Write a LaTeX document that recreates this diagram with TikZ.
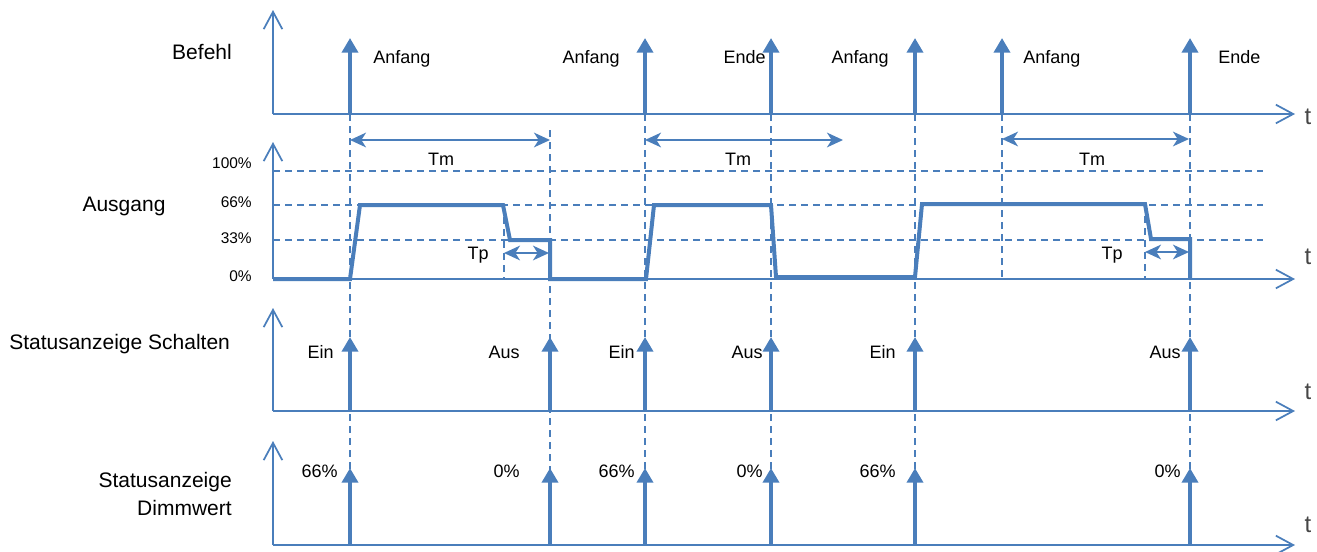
\documentclass[tikz,border=0pt]{standalone}
\usepackage{fontspec}
\setmainfont{Liberation Sans}
\usepackage{tikz}
\usetikzlibrary{arrows.meta}
\definecolor{diablue}{RGB}{74,126,187}
\definecolor{tgray}{RGB}{70,70,70}

\begin{document}
\begin{tikzpicture}
  [
    x=0.75pt, y=-0.75pt,
    axis/.style={draw=diablue, line width=1.3pt,
      -{Straight Barb[length=13pt,width=14pt]}},
    pulse/.style={draw=diablue, line width=3pt,
      -{Triangle[length=11pt,width=12pt]}},
    guide/.style={draw=diablue, line width=1.1pt, dash pattern=on 5.5pt off 3.5pt},
    span/.style={draw=diablue, line width=1.5pt,
      {Stealth[length=12pt,width=11pt,inset=3.5pt]}-{Stealth[length=12pt,width=11pt,inset=3.5pt]}},
    level/.style={draw=diablue, line width=3pt},
    rowlbl/.style={font=\fontsize{15.75}{18}\selectfont, inner sep=0pt},
    lbl/.style={font=\fontsize{13.5}{16}\selectfont, inner sep=0pt},
    pct/.style={font=\fontsize{11.6}{14}\selectfont, inner sep=0pt, anchor=base east},
    tlbl/.style={font=\fontsize{18}{20}\selectfont, text=tgray, inner sep=0pt, anchor=base}
  ]
  \useasboundingbox (0,0) rectangle (1317,551);

  % origins of the four panels
  \coordinate (o1) at (273,114);
  \coordinate (o2) at (273,279);
  \coordinate (o3) at (273,411);
  \coordinate (o4) at (273,545);

  % dashed guides
  \coordinate (g100a) at (273,171);  \coordinate (g100b) at (1263,171);
  \coordinate (g66a)  at (273,205);  \coordinate (g66b)  at (1263,205);
  \coordinate (g33a)  at (273,240);  \coordinate (g33b)  at (1263,240);
  \draw [guide] (g100a) -- (g100b);
  \draw [guide] (g66a) -- (g66b);
  \draw [guide] (g33a) -- (g33b);

  \coordinate (v1a) at ( 350,114);  \coordinate (v1b) at ( 350,545);
  \coordinate (v2a) at ( 550,130);  \coordinate (v2b) at ( 550,545);
  \coordinate (v3a) at ( 645,114);  \coordinate (v3b) at ( 645,545);
  \coordinate (v4a) at ( 771,114);  \coordinate (v4b) at ( 771,545);
  \coordinate (v5a) at ( 915,114);  \coordinate (v5b) at ( 915,545);
  \coordinate (v6a) at (1002,114);  \coordinate (v6b) at (1002,279);
  \coordinate (v7a) at (1190,114);  \coordinate (v7b) at (1190,545);
  \coordinate (v8a) at ( 504,205);  \coordinate (v8b) at ( 504,279);
  \coordinate (v9a) at (1145,204);  \coordinate (v9b) at (1145,279);
  \draw [guide] (v1a) -- (v1b);
  \draw [guide] (v2a) -- (v2b);
  \draw [guide] (v3a) -- (v3b);
  \draw [guide] (v4a) -- (v4b);
  \draw [guide] (v5a) -- (v5b);
  \draw [guide] (v6a) -- (v6b);
  \draw [guide] (v7a) -- (v7b);
  \draw [guide] (v8a) -- (v8b);
  \draw [guide] (v9a) -- (v9b);

  % axes
  \coordinate (y1) at (273, 10);  \coordinate (t1) at (1295,114);
  \coordinate (y2) at (273,142);  \coordinate (t2) at (1295,279);
  \coordinate (y3) at (273,308);  \coordinate (t3) at (1295,411);
  \coordinate (y4) at (273,441);  \coordinate (t4) at (1295,545);
  \draw [axis] (o1) -- (y1);  \draw [axis] (o1) -- (t1);
  \draw [axis] (o2) -- (y2);  \draw [axis] (o2) -- (t2);
  \draw [axis] (o3) -- (y3);  \draw [axis] (o3) -- (t3);
  \draw [axis] (o4) -- (y4);  \draw [axis] (o4) -- (t4);

  \node (tAxis1) at (1308,124) [tlbl] {t};
  \node (tAxis2) at (1308,264) [tlbl] {t};
  \node (tAxis3) at (1308,399) [tlbl] {t};
  \node (tAxis4) at (1308,532) [tlbl] {t};

  % row titles
  \node (rowBefehl)  at (202,59) [rowlbl, anchor=base] {Befehl};
  \node (rowAusgang) at (124,211) [rowlbl, anchor=base] {Ausgang};
  \node (rowSchalten) at (9,349) [rowlbl, anchor=base west] {Statusanzeige Schalten};
  \node (rowDimm1) at (232,487) [rowlbl, anchor=base east] {Statusanzeige};
  \node (rowDimm2) at (232,515) [rowlbl, anchor=base east] {Dimmwert};

  % Befehl
  \coordinate (c1) at ( 350,38);
  \coordinate (c2) at ( 645,38);
  \coordinate (c3) at ( 771,38);
  \coordinate (c4) at ( 915,38);
  \coordinate (c5) at (1002,38);
  \coordinate (c6) at (1190,38);
  \draw [pulse] (v1a) -- (c1);
  \draw [pulse] (v3a) -- (c2);
  \draw [pulse] (v4a) -- (c3);
  \draw [pulse] (v5a) -- (c4);
  \draw [pulse] (v6a) -- (c5);
  \draw [pulse] (v7a) -- (c6);
  \node (cmdAnfang1) at ( 373,63) [lbl, anchor=base west] {Anfang};
  \node (cmdAnfang2) at ( 620,63) [lbl, anchor=base east] {Anfang};
  \node (cmdEnde1)   at ( 766,63) [lbl, anchor=base east] {Ende};
  \node (cmdAnfang3) at ( 889,63) [lbl, anchor=base east] {Anfang};
  \node (cmdAnfang4) at (1023,63) [lbl, anchor=base west] {Anfang};
  \node (cmdEnde2)   at (1218,63) [lbl, anchor=base west] {Ende};

  % Ausgang
  \node (pct100) at (252,168) [pct] {100\%};
  \node (pct66)  at (252,207) [pct] {66\%};
  \node (pct33)  at (252,243) [pct] {33\%};
  \node (pct0)   at (252,281) [pct] {0\%};

  \draw [level] (o2) -- (350,279) -- (360,205) -- (503,205) -- (510,240)
    -- (550,240) -- (550,279) -- (646,279) -- (654,205) -- (771,205)
    -- (776,277) -- (915,277) -- (922,204) -- (1145,204) -- (1151,239)
    -- (1190,239) -- (v6b -| v7a);

  \coordinate (tm1a) at ( 350,140);  \coordinate (tm1b) at ( 550,140);
  \coordinate (tm2a) at ( 645,140);  \coordinate (tm2b) at ( 843,140);
  \coordinate (tm3a) at (1002,139);  \coordinate (tm3b) at (1189,139);
  \draw [span] (tm1a) -- (tm1b);
  \draw [span] (tm2a) -- (tm2b);
  \draw [span] (tm3a) -- (tm3b);
  \node (lblTm1) at ( 441,165) [lbl, anchor=base] {Tm};
  \node (lblTm2) at ( 738,165) [lbl, anchor=base] {Tm};
  \node (lblTm3) at (1092,165) [lbl, anchor=base] {Tm};

  \coordinate (tp1a) at ( 504,253);  \coordinate (tp1b) at ( 549,253);
  \coordinate (tp2a) at (1145,252);  \coordinate (tp2b) at (1189,252);
  \draw [span] (tp1a) -- (tp1b);
  \draw [span] (tp2a) -- (tp2b);
  \node (lblTp1) at ( 478,259) [lbl, anchor=base] {Tp};
  \node (lblTp2) at (1112,259) [lbl, anchor=base] {Tp};

  % Statusanzeige Schalten
  \coordinate (s1) at ( 350,411);  \coordinate (s1t) at ( 350,337);
  \coordinate (s2) at ( 550,411);  \coordinate (s2t) at ( 550,337);
  \coordinate (s3) at ( 645,411);  \coordinate (s3t) at ( 645,337);
  \coordinate (s4) at ( 771,411);  \coordinate (s4t) at ( 771,337);
  \coordinate (s5) at ( 915,411);  \coordinate (s5t) at ( 915,337);
  \coordinate (s6) at (1190,411);  \coordinate (s6t) at (1190,337);
  \draw [pulse] (s1) -- (s1t);
  \draw [pulse] (s2) -- (s2t);
  \draw [pulse] (s3) -- (s3t);
  \draw [pulse] (s4) -- (s4t);
  \draw [pulse] (s5) -- (s5t);
  \draw [pulse] (s6) -- (s6t);
  \node (swEin1) at ( 334,358) [lbl, anchor=base east] {Ein};
  \node (swAus1) at ( 520,358) [lbl, anchor=base east] {Aus};
  \node (swEin2) at ( 635,358) [lbl, anchor=base east] {Ein};
  \node (swAus2) at ( 763,358) [lbl, anchor=base east] {Aus};
  \node (swEin3) at ( 896,358) [lbl, anchor=base east] {Ein};
  \node (swAus3) at (1181,358) [lbl, anchor=base east] {Aus};

  % Statusanzeige Dimmwert
  \coordinate (d1t) at ( 350,468);
  \coordinate (d2t) at ( 550,468);
  \coordinate (d3t) at ( 645,468);
  \coordinate (d4t) at ( 771,468);
  \coordinate (d5t) at ( 915,468);
  \coordinate (d6t) at (1190,468);
  \draw [pulse] (v1b) -- (d1t);
  \draw [pulse] (v2b) -- (d2t);
  \draw [pulse] (v3b) -- (d3t);
  \draw [pulse] (v4b) -- (d4t);
  \draw [pulse] (v5b) -- (d5t);
  \draw [pulse] (v7b) -- (d6t);
  \node (dimVal1) at ( 338,477) [lbl, anchor=base east] {66\%};
  \node (dimVal2) at ( 520,477) [lbl, anchor=base east] {0\%};
  \node (dimVal3) at ( 635,477) [lbl, anchor=base east] {66\%};
  \node (dimVal4) at ( 763,477) [lbl, anchor=base east] {0\%};
  \node (dimVal5) at ( 896,477) [lbl, anchor=base east] {66\%};
  \node (dimVal6) at (1181,477) [lbl, anchor=base east] {0\%};
\end{tikzpicture}
\end{document}
